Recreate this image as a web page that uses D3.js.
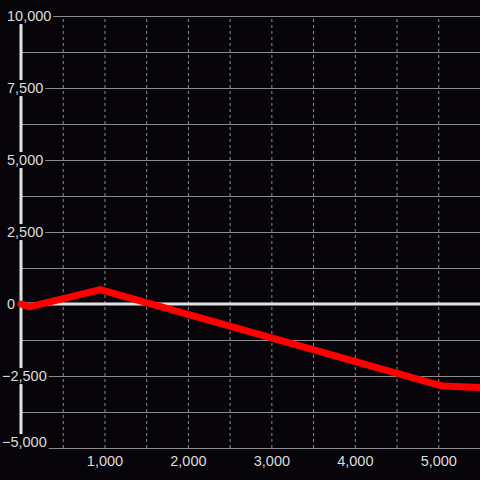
<!DOCTYPE html>
<html>
<head>
<meta charset="utf-8">
<script src="https://cdn.jsdelivr.net/npm/d3@7"></script>
<style>
body { margin: 0; background: #07050a; }
svg { display: block; font-family: "Liberation Sans", Arial, sans-serif; }
</style>
</head>
<body>
<script>
// data
var xValues = [0, 100, 950, 5050, 5500];
var yValues = [0, -100, 500, -2850, -2900];

var yLabelTicks = [10000, 7500, 5000, 2500, 0, -2500, -5000];
var yGridTicks = [10000, 8750, 7500, 6250, 5000, 3750, 2500, 1250, 0, -1250, -2500, -3750, -5000];
var xLabelTicks = [1000, 2000, 3000, 4000, 5000];
var xGridTicks = [500, 1000, 1500, 2000, 2500, 3000, 3500, 4000, 4500, 5000];

var width = 480, height = 480,
    plotLeft = 21, plotTop = 16, plotBottom = 448;

var bg = "#07050a",
    gridColor = "#8c8c8c",
    textColor = "#dcdcdc",
    axisColor = "#e2e2e2",
    fontSize = "14.5px";

var x = d3.scaleLinear().domain([0, 5500]).range([plotLeft, width]);
var y = d3.scaleLinear().domain([-5000, 10000]).range([plotBottom, plotTop]);

var svg = d3.select("body").append("svg")
    .attr("width", width)
    .attr("height", height);

svg.append("rect")
    .attr("width", width)
    .attr("height", height)
    .attr("fill", bg);

// horizontal grid
var yGrid = d3.axisLeft(y)
    .tickValues(yGridTicks)
    .tickSize(-(width - plotLeft))
    .tickFormat("");

svg.append("g")
    .attr("transform", "translate(" + plotLeft + ",0)")
    .call(yGrid)
    .call(function(g) { g.select(".domain").remove(); })
    .selectAll("line")
    .attr("stroke", gridColor)
    .attr("stroke-width", 1);

// vertical dashed grid
var xGrid = d3.axisBottom(x)
    .tickValues(xGridTicks)
    .tickSize(-(plotBottom - plotTop))
    .tickFormat("");

svg.append("g")
    .attr("transform", "translate(0," + plotBottom + ")")
    .call(xGrid)
    .call(function(g) { g.select(".domain").remove(); })
    .selectAll("line")
    .attr("stroke", gridColor)
    .attr("stroke-width", 1)
    .attr("stroke-dasharray", "3,3");

// zero line and y axis line
svg.append("line")
    .attr("x1", plotLeft)
    .attr("x2", width)
    .attr("y1", y(0))
    .attr("y2", y(0))
    .attr("stroke", axisColor)
    .attr("stroke-width", 3);

svg.append("line")
    .attr("x1", plotLeft)
    .attr("x2", plotLeft)
    .attr("y1", plotTop)
    .attr("y2", plotBottom)
    .attr("stroke", axisColor)
    .attr("stroke-width", 3);

// y labels with background boxes (bottom one nudged up to stay inside)
var fmt = d3.format(",");
var yLab = svg.selectAll(".ylab")
    .data(yLabelTicks)
    .enter().append("g")
    .attr("class", "ylab");

yLab.append("rect").attr("fill", bg);

yLab.append("text")
    .attr("x", function(d) { return d < 0 ? 2 : 7; })
    .attr("y", function(d) { return Math.min(y(d), plotBottom - 6); })
    .attr("dy", "0.35em")
    .attr("fill", textColor)
    .style("font-size", fontSize)
    .text(function(d) { return fmt(d); });

yLab.each(function() {
    var g = d3.select(this);
    var b = g.select("text").node().getBBox();
    g.select("rect")
        .attr("x", b.x - 2)
        .attr("y", b.y)
        .attr("width", b.width + 4)
        .attr("height", b.height);
});

// x labels
var xAxis = d3.axisBottom(x)
    .tickValues(xLabelTicks)
    .tickSize(0)
    .tickPadding(8)
    .tickFormat(fmt);

svg.append("g")
    .attr("transform", "translate(0," + plotBottom + ")")
    .call(xAxis)
    .call(function(g) { g.select(".domain").remove(); })
    .selectAll("text")
    .attr("fill", textColor)
    .style("font-size", fontSize)
    .style("font-family", "'Liberation Sans', Arial, sans-serif");

// series line
var data = xValues.map(function(d, i) { return [d, yValues[i]]; });

var line = d3.line()
    .x(function(d) { return x(d[0]); })
    .y(function(d) { return y(d[1]); });

svg.append("path")
    .datum(data)
    .attr("d", line)
    .attr("fill", "none")
    .attr("stroke", "#ff0000")
    .attr("stroke-width", 7)
    .attr("stroke-linejoin", "round")
    .attr("stroke-linecap", "round");
</script>
</body>
</html>
